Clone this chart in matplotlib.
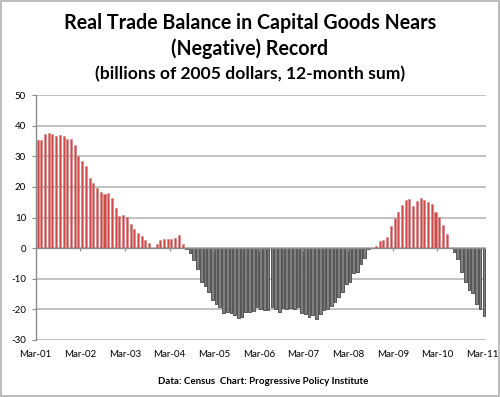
import matplotlib
matplotlib.use("Agg")
import matplotlib.pyplot as plt
from matplotlib.patches import Rectangle
import numpy as np

values = [
    35.3, 35.3, 37.4, 37.6, 37.2, 36.6, 36.8, 36.5, 35.8, 35.7, 33.7, 30.0,
    28.6, 26.7, 22.9, 21.2, 19.8, 18.4, 17.6, 17.9, 16.4, 13.0, 10.5, 10.9,
    10.1, 8.0, 6.3, 5.1, 4.0, 2.8, 1.8, 0.2, 1.5, 2.8, 3.1, 2.9,
    3.1, 3.2, 4.2, 1.5, -0.2, -1.6, -4.0, -6.8, -11.2, -12.5, -14.3, -17.1,
    -18.3, -19.2, -21.1, -21.0, -21.3, -21.7, -22.9, -22.4, -20.8, -20.8, -20.5, -19.2,
    -20.0, -20.3, -20.3, -19.3, -19.8, -20.8, -19.6, -19.8, -19.7, -19.9, -19.2, -21.3,
    -21.4, -22.4, -21.7, -23.3, -21.6, -20.1, -19.8, -19.0, -17.5, -15.8, -14.3, -11.7,
    -10.9, -8.2, -7.9, -5.1, -3.3, -0.3, 0.1, 0.8, 2.2, 2.8, 3.7, 7.3,
    10.0, 11.7, 14.2, 15.7, 15.9, 13.7, 15.5, 16.3, 15.8, 15.1, 14.5, 11.7,
    10.2, 7.4, 4.7, 0.0, -1.3, -3.5, -7.9, -10.9, -13.6, -14.7, -18.2, -19.8,
    -22.3,
]
tick_labels = ["Mar-01", "Mar-02", "Mar-03", "Mar-04", "Mar-05", "Mar-06",
               "Mar-07", "Mar-08", "Mar-09", "Mar-10", "Mar-11"]
y_ticks = [50, 40, 30, 20, 10, 0, -10, -20, -30]

vals = np.array(values)
x = np.arange(len(vals))

fig = plt.figure(figsize=(5, 3.97), dpi=100)
fig.patches.append(Rectangle((0.002, 0.002), 0.996, 0.995, transform=fig.transFigure,
                             fill=False, edgecolor="#b0b0b0", linewidth=1.2))
ax = fig.add_axes([0.0714, 0.1436, 0.9, 0.617])

grid_color = "#bdbdbd"
for yv in y_ticks:
    ax.axhline(yv, color=grid_color, linewidth=1.3, zorder=0)

pos = vals >= 0
ax.bar(x[pos], vals[pos], width=0.55, color="#cc4a4a", edgecolor="#d98080",
       linewidth=0.4, zorder=2)
ax.bar(x[~pos], vals[~pos], width=0.72, color="#808080", edgecolor="#454545",
       linewidth=0.6, zorder=2)

ax.axhline(0, color="#8c8c8c", linewidth=1.0, zorder=3)

tick_pos = np.arange(len(tick_labels)) * 12 - 0.5
tick_pos[-1] = 119.6
ax.vlines(tick_pos[1:-1], -0.9, 0, color="#8c8c8c", linewidth=0.8, zorder=3)

ax.set_xlim(-0.5, 120.5)
ax.set_ylim(-30, 50)
ax.set_yticks(y_ticks)
ax.set_yticklabels([str(v) for v in y_ticks], fontsize=7, family="Lato")
ax.tick_params(axis="y", length=3, color="#8c8c8c", pad=4)
ax.set_xticks(tick_pos)
ax.set_xticklabels(tick_labels, fontsize=7, family="Lato")
ax.tick_params(axis="x", length=0, pad=7)

for s in ["top", "right", "bottom"]:
    ax.spines[s].set_visible(False)
ax.spines["left"].set_color("#8c8c8c")
ax.spines["left"].set_linewidth(1.0)

fig.text(0.5, 1 - 23 / 397, "Real Trade Balance in Capital Goods Nears",
         ha="center", va="center", fontsize=14.1, fontweight="bold", family="Lato")
fig.text(0.5, 1 - 49 / 397, "(Negative) Record",
         ha="center", va="center", fontsize=14.1, fontweight="bold", family="Lato")
fig.text(0.5, 1 - 74 / 397, "(billions of 2005 dollars, 12-month sum)",
         ha="center", va="center", fontsize=12.6, fontweight="bold", family="Lato")
fig.text(0.527, 1 - 381 / 397, "Data: Census  Chart: Progressive Policy Institute",
         ha="center", va="center", fontsize=7, fontweight="bold", family="Lato")

fig.savefig("out.png", dpi=100)
